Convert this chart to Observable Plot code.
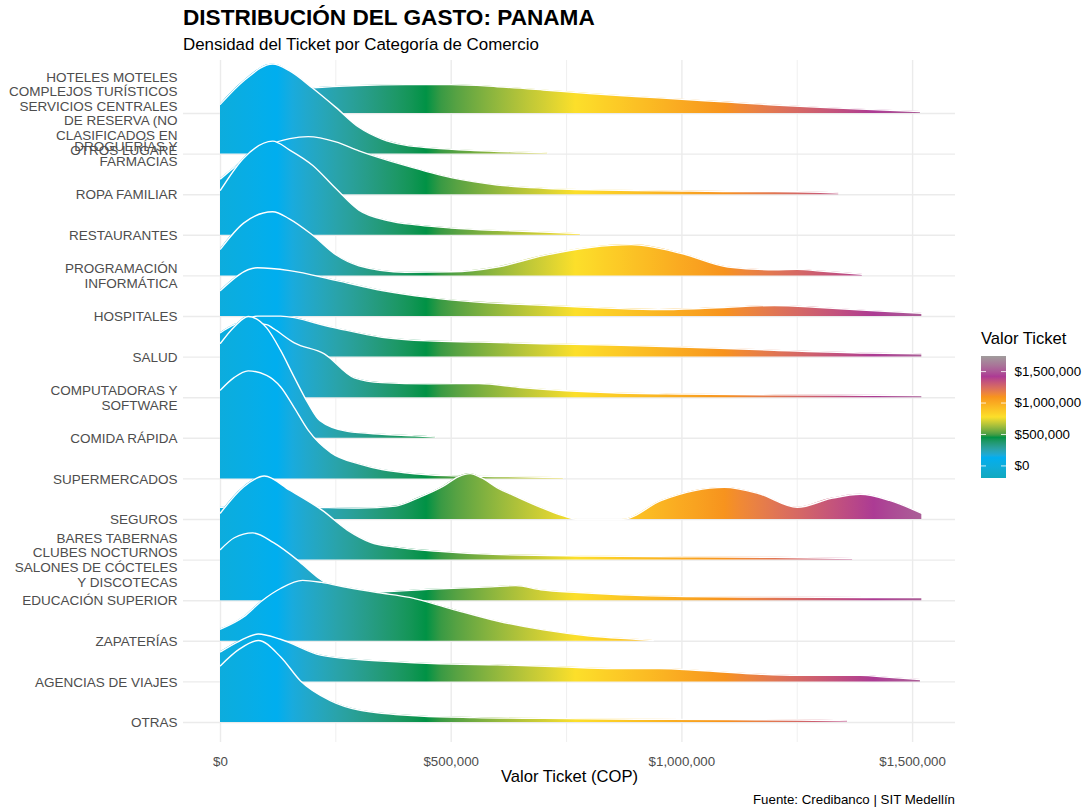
<!DOCTYPE html>
<html>
<head>
<meta charset="utf-8">
<script src="https://cdn.jsdelivr.net/npm/d3@7"></script>
<script src="https://cdn.jsdelivr.net/npm/@observablehq/plot@0.6"></script>
<style>
  html, body { margin: 0; padding: 0; background: #fff; }
  #wrap { position: relative; width: 1084px; height: 808px; font-family: "Liberation Sans", Arial, sans-serif; overflow: hidden; }
  .abs { position: absolute; white-space: nowrap; line-height: 1; }
  #title { left: 183px; top: 7px; font-size: 22.6px; font-weight: bold; color: #000; }
  #subtitle { left: 183px; top: 37px; font-size: 16.9px; color: #000; }
  #chart { left: 0; top: 58px; }
  #legendTitle { left: 981px; top: 331px; font-size: 16.6px; color: #000; }
  #legend { left: 975px; top: 351px; }
  #caption { right: 129px; top: 793px; font-size: 13.3px; color: #000; }
</style>
</head>
<body>
<div id="wrap">
  <div id="title" class="abs">DISTRIBUCIÓN DEL GASTO: PANAMA</div>
  <div id="subtitle" class="abs">Densidad del Ticket por Categoría de Comercio</div>
  <div id="chart" class="abs"></div>
  <div id="legendTitle" class="abs">Valor Ticket</div>
  <div id="legend" class="abs"></div>
  <div id="caption" class="abs">Fuente: Credibanco | SIT Medellín</div>
</div>
<script>
// ---- Categories (top to bottom) ----
const categories = [
  "HOTELES MOTELES\nCOMPLEJOS TURÍSTICOS\nSERVICIOS CENTRALES\nDE RESERVA (NO\nCLASIFICADOS EN\nOTROS LUGARE",
  "DROGUERÍAS Y\nFARMACIAS",
  "ROPA FAMILIAR",
  "RESTAURANTES",
  "PROGRAMACIÓN\nINFORMÁTICA",
  "HOSPITALES",
  "SALUD",
  "COMPUTADORAS Y\nSOFTWARE",
  "COMIDA RÁPIDA",
  "SUPERMERCADOS",
  "SEGUROS",
  "BARES TABERNAS\nCLUBES NOCTURNOS\nSALONES DE CÓCTELES\nY DISCOTECAS",
  "EDUCACIÓN SUPERIOR",
  "ZAPATERÍAS",
  "AGENCIAS DE VIAJES",
  "OTRAS"
];

// ---- Scaled density ridges: [ticket value in thousands COP, ridge height in rows] ----
const hoteles = [[0,0.2],[100,0.5],[200,0.63],[300,0.69],[400,0.71],[500,0.71],[600,0.66],[700,0.58],[800,0.49],[900,0.42],[1000,0.35],[1100,0.28],[1200,0.21],[1300,0.15],[1400,0.1],[1517,0.05]];
const droguerias = [[0,1.23],[50,1.8],[113,2.22],[150,2.05],[200,1.62],[250,1.15],[300,0.66],[350,0.37],[400,0.22],[460,0.15],[550,0.09],[650,0.05],[709,0.03]];
const ropa = [[0,0.39],[50,0.85],[100,1.2],[150,1.38],[190,1.43],[250,1.3],[300,1.08],[400,0.72],[500,0.42],[600,0.24],[700,0.16],[800,0.12],[900,0.1],[1000,0.09],[1100,0.08],[1200,0.08],[1300,0.06],[1340,0.04]];
const restaurantes = [[0,1.11],[50,1.9],[113,2.32],[150,2.1],[200,1.72],[250,1.15],[300,0.62],[360,0.37],[430,0.25],[500,0.18],[600,0.12],[700,0.08],[780,0.04]];
const programacion = [[0,0.66],[50,1.3],[113,1.58],[150,1.4],[200,1.0],[250,0.52],[300,0.25],[400,0.09],[500,0.1],[600,0.22],[700,0.5],[800,0.7],[890,0.77],[1000,0.55],[1100,0.22],[1200,0.15],[1250,0.16],[1300,0.12],[1391,0.04]];
const hospitales = [[0,0.64],[80,1.2],[150,1.13],[250,0.89],[350,0.64],[450,0.47],[550,0.36],[650,0.3],[750,0.25],[850,0.2],[950,0.17],[1050,0.2],[1200,0.27],[1300,0.22],[1400,0.15],[1520,0.08]];
const salud = [[0,0.59],[20,0.71],[80,1.01],[130,1.01],[240,0.74],[350,0.49],[450,0.4],[560,0.37],[700,0.33],[820,0.3],[1000,0.25],[1200,0.17],[1400,0.1],[1520,0.08]];
const computadoras = [[0,1.6],[50,1.85],[100,1.8],[115,1.7],[160,1.35],[225,1.08],[290,0.49],[350,0.37],[450,0.34],[560,0.35],[650,0.25],[750,0.17],[850,0.12],[1000,0.09],[1200,0.07],[1400,0.06],[1520,0.05]];
const comidaRapida = [[0,2.34],[30,2.75],[60,3.0],[100,2.72],[130,2.17],[160,1.5],[190,0.86],[215,0.44],[275,0.17],[350,0.1],[420,0.06],[466,0.03]];
const supermercados = [[0,2.19],[30,2.5],[60,2.66],[100,2.55],[130,2.27],[160,1.75],[190,1.2],[240,0.64],[300,0.37],[350,0.23],[400,0.15],[490,0.08],[600,0.06],[700,0.04],[743,0.03]];
const seguros = [[0,0.3],[100,0.32],[200,0.3],[300,0.28],[380,0.33],[430,0.54],[483,0.82],[515,1.05],[541,1.13],[565,1.03],[600,0.78],[640,0.57],[694,0.3],[740,0.1],[775,0.0],[870,0.0],[956,0.47],[1092,0.79],[1166,0.64],[1250,0.3],[1324,0.52],[1387,0.62],[1450,0.47],[1520,0.15]];
const bares = [[0,1.16],[50,1.8],[95,2.07],[150,1.72],[220,1.23],[275,0.74],[325,0.44],[380,0.32],[480,0.21],[590,0.14],[800,0.1],[1000,0.08],[1200,0.07],[1370,0.04]];
const educacion = [[0,1.26],[30,1.55],[70,1.67],[115,1.43],[167,1.0],[208,0.6],[271,0.22],[350,0.22],[450,0.28],[587,0.34],[640,0.37],[694,0.27],[776,0.2],[900,0.13],[1008,0.1],[1200,0.09],[1400,0.08],[1520,0.08]];
const zapaterias = [[0,0.3],[50,0.6],[90,1.0],[130,1.3],[178,1.5],[219,1.45],[273,1.33],[340,1.2],[410,1.08],[500,0.8],[600,0.5],[700,0.28],[800,0.13],[900,0.05],[938,0.02]];
const agencias = [[0,0.74],[40,1.0],[82,1.18],[130,1.05],[217,0.66],[300,0.55],[390,0.49],[498,0.44],[600,0.42],[737,0.37],[850,0.33],[950,0.33],[1040,0.28],[1150,0.2],[1250,0.16],[1387,0.16],[1450,0.11],[1517,0.06]];
const otras = [[0,1.4],[40,1.8],[82,2.02],[130,1.62],[173,1.03],[238,0.54],[303,0.3],[433,0.16],[550,0.12],[700,0.1],[900,0.08],[1100,0.07],[1250,0.06],[1359,0.04]];

const ridges = [hoteles, droguerias, ropa, restaurantes, programacion, hospitales, salud, computadoras,
                comidaRapida, supermercados, seguros, bares, educacion, zapaterias, agencias, otras];

// ---- Axis ticks ----
const xTicks = [0, 500000, 1000000, 1500000];
const xMinorTicks = [250000, 750000, 1250000];
const legendTicks = [0, 500000, 1000000, 1500000];

// ---- Colour gradient (fill by ticket value) ----
const gradientColors = ["#0FA9BF", "#00AEEF", "#009245", "#FCDF2A", "#F7931E", "#AC3B94", "#A09C9C"];
const gradientLimits = [-200000, 1740000];

// ---- Build table ----
const n = categories.length;
const rows = [];
ridges.forEach((pts, i) => {
  const pos = n - i;
  pts.forEach(([k, h]) => rows.push({cat: categories[i], pos, x: k * 1000, top: pos + h}));
});
const posOf = new Map(categories.map((c, i) => [n - i, c]));

const money = d => "$" + d3.format(",")(d);
const fontFamily = '"Liberation Sans", Arial, sans-serif';

function gradientDefs(id, orient) {
  return (index, scales) => {
    const ns = "http://www.w3.org/2000/svg";
    const defs = document.createElementNS(ns, "defs");
    const g = document.createElementNS(ns, "linearGradient");
    g.setAttribute("id", id);
    g.setAttribute("gradientUnits", "userSpaceOnUse");
    const s = scales[orient];
    const a = s(gradientLimits[0]), b = s(gradientLimits[1]);
    if (orient === "x") { g.setAttribute("x1", a); g.setAttribute("x2", b); g.setAttribute("y1", 0); g.setAttribute("y2", 0); }
    else { g.setAttribute("x1", 0); g.setAttribute("x2", 0); g.setAttribute("y1", a); g.setAttribute("y2", b); }
    const dom = gradientColors.map((c, i) => gradientLimits[0] + i * (gradientLimits[1] - gradientLimits[0]) / (gradientColors.length - 1));
    const interp = d3.scaleLinear().domain(dom).range(gradientColors).interpolate(d3.interpolateLab);
    const N = 60;
    for (let i = 0; i <= N; i++) {
      const t = i / N;
      const st = document.createElementNS(ns, "stop");
      st.setAttribute("offset", t);
      st.setAttribute("stop-color", interp(gradientLimits[0] + t * (gradientLimits[1] - gradientLimits[0])));
      g.appendChild(st);
    }
    defs.appendChild(g);
    return defs;
  };
}

const ridgeMarks = categories.flatMap(c => {
  const data = rows.filter(r => r.cat === c);
  return [
    Plot.areaY(data, {x: "x", y1: "pos", y2: "top", fill: "url(#ridgeFill)", curve: "monotone-x"}),
    Plot.lineY(data, {x: "x", y: "top", stroke: "white", strokeWidth: 1.4, curve: "monotone-x"})
  ];
});

const chart = Plot.plot({
  width: 1084,
  height: 735,
  marginLeft: 183,
  marginRight: 129,
  marginTop: 2,
  marginBottom: 51,
  style: {fontFamily, fontSize: "13.3px", color: "#4D4D4D", background: "white", overflow: "visible"},
  x: {domain: [-80200, 1593000]},
  y: {domain: [0.507, 17.305]},
  marks: [
    gradientDefs("ridgeFill", "x"),
    Plot.gridX(xMinorTicks, {stroke: "#EBEBEB", strokeOpacity: 1, strokeWidth: 0.8}),
    Plot.gridX(xTicks, {stroke: "#EBEBEB", strokeOpacity: 1, strokeWidth: 1.4}),
    Plot.gridY(d3.range(1, n + 1), {stroke: "#EBEBEB", strokeOpacity: 1, strokeWidth: 1.4}),
    ...ridgeMarks,
    Plot.axisX(xTicks, {tickSize: 0, tickPadding: 14, tickFormat: money, fontSize: 13.3, fill: "#4D4D4D", label: null}),
    Plot.axisY(d3.range(1, n + 1), {tickSize: 0, tickPadding: 6, tickFormat: d => posOf.get(d), fontSize: 13.5, lineHeight: 1.08, fill: "#4D4D4D", label: null}),
    Plot.text(["Valor Ticket (COP)"], {frameAnchor: "bottom", dy: 39, fontSize: 16.6, fill: "black"})
  ]
});
document.getElementById("chart").appendChild(chart);

const legend = Plot.plot({
  width: 109,
  height: 132,
  marginLeft: 6,
  marginRight: 78,
  marginTop: 5,
  marginBottom: 5,
  style: {fontFamily, fontSize: "13.3px", color: "#000", background: "transparent", overflow: "visible"},
  x: {domain: [0, 1], axis: null},
  y: {domain: [gradientLimits[0], gradientLimits[1]]},
  marks: [
    gradientDefs("legendFill", "y"),
    Plot.rect([gradientLimits], {x1: 0, x2: 1, y1: d => d[0], y2: d => d[1], fill: "url(#legendFill)"}),
    Plot.ruleY(legendTicks, {x1: 0, x2: 0.2, stroke: "white", strokeOpacity: 0.8}),
    Plot.ruleY(legendTicks, {x1: 0.8, x2: 1, stroke: "white", strokeOpacity: 0.8}),
    Plot.axisY(legendTicks, {anchor: "right", tickSize: 0, tickPadding: 8, tickFormat: money, fontSize: 13.3, fill: "#000", label: null})
  ]
});
document.getElementById("legend").appendChild(legend);
</script>
</body>
</html>
